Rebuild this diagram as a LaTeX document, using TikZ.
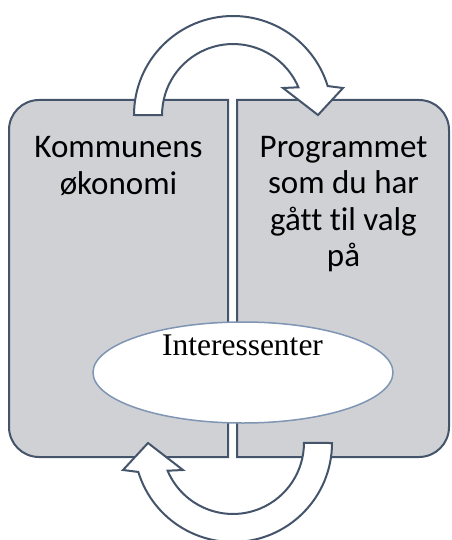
\documentclass[tikz,border=0pt]{standalone}
\usepackage{fontspec}
\setmainfont{Liberation Serif}
\setsansfont[Ligatures=NoCommon]{Carlito}
\usetikzlibrary{shapes.geometric}
\definecolor{boxfill}{RGB}{208,209,213}
\definecolor{boxline}{RGB}{68,84,106}
\definecolor{ellline}{RGB}{127,149,180}
\tikzset{
  boxshape/.style={fill=boxfill, draw=boxline, line width=2pt},
  blockarrow/.style={fill=white, draw=boxline, line width=2pt, line join=miter},
  boxtext/.style={font=\sffamily\fontsize{33}{36.5}\selectfont, align=center, inner sep=0pt, anchor=base},
  centertext/.style={font=\rmfamily\fontsize{31.5}{36}\selectfont, inner sep=0pt, anchor=base},
  ellshape/.style={ellipse, fill=white, draw=ellline, line width=1.5pt, minimum width=300pt, minimum height=101pt, inner sep=0pt}
}
\begin{document}
\begin{tikzpicture}[x=1pt, y=-1pt]
\useasboundingbox (0,0) rectangle (451,540);
% boxes
\draw[boxshape] (228,100) -- (39,100) arc[start angle=-90, end angle=-180, radius=30]
  -- (9,427) arc[start angle=180, end angle=90, radius=30] -- (228,457) -- cycle;
\draw[boxshape] (237,100) -- (419,100) arc[start angle=-90, end angle=0, radius=30]
  -- (449,427) arc[start angle=0, end angle=90, radius=30] -- (237,457) -- cycle;
% top arrow
\draw[blockarrow] (134,115) arc[start angle=-180, end angle=-17, radius=99]
  -- (343,88) -- (318,115) -- (283,88) -- (298.4,87.3)
  arc[start angle=-23, end angle=-180, radius=71] -- cycle;
% bottom arrow (same shape turned half round)
\begin{scope}[rotate around={180:(233,279)}]
\draw[blockarrow] (134,115) arc[start angle=-180, end angle=-17, radius=99]
  -- (343,88) -- (318,115) -- (283,88) -- (298.4,87.3)
  arc[start angle=-23, end angle=-180, radius=71] -- cycle;
\end{scope}
% texts (base anchor = baseline of the last line)
\node[boxtext] (left) at (118.5,194) {Kommunens\\økonomi};
\node[boxtext] (right) at (343.5,266.5) {Programmet\\som du har\\gått til valg\\på};
% ellipse
\node[ellshape] (ell) at (243,372.5) {};
\node[centertext] (inter) at (242.5,355.7) {Interessenter};
\end{tikzpicture}
\end{document}
